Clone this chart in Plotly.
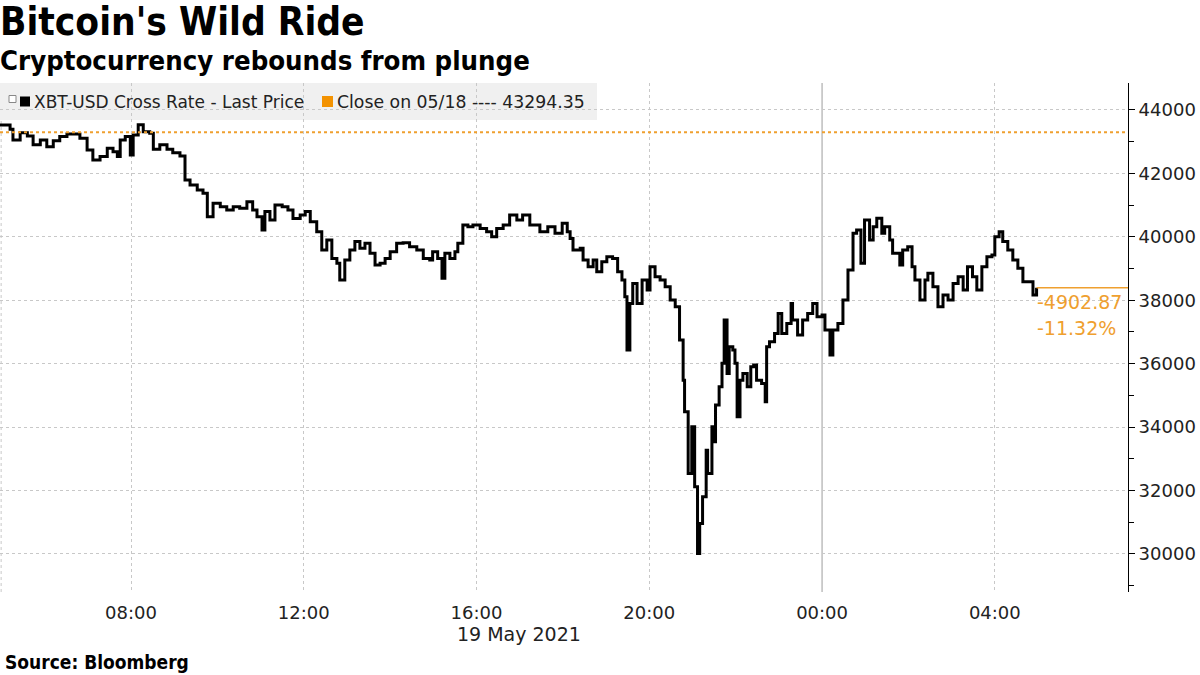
import pandas as pd
import plotly.graph_objects as go

# ---- data ----
start_time = "2021-05-19 04:58"
minutes = [0, 14, 18, 28, 38, 46, 56, 65, 74, 83, 93, 101, 111, 121, 129, 139, 149, 157, 163, 167,
           174, 181, 185, 192, 199, 208, 213, 222, 232, 240, 250, 257, 264, 274, 282, 288, 296, 306,
           315, 324, 333, 343, 351,
           357, 364, 368, 375, 382, 392, 400, 407, 417, 424, 431, 440, 447, 454, 461, 468, 472, 479,
           486, 493, 500, 507, 514, 521, 528, 535, 542, 551, 560, 569, 579, 588, 597, 601, 608, 614,
           618, 625, 632, 636, 643, 650, 657, 667, 676, 683, 690,
           699, 708, 718, 726, 736, 750, 761, 771, 781, 788, 792, 796, 806, 810, 817, 824, 829, 836,
           843, 851, 858, 864, 868, 871, 875, 879, 885, 892, 899, 903, 910, 917, 924, 931, 938, 944,
           949, 951, 956, 961, 965, 969,
           972, 976, 981, 983, 989, 990, 994, 999, 1003, 1006, 1010, 1013, 1018, 1021, 1024, 1028,
           1032, 1038, 1043, 1047, 1051, 1058, 1063, 1065, 1069, 1076, 1081, 1086, 1093, 1099, 1101,
           1108, 1115, 1122, 1129, 1135, 1142, 1146, 1153, 1157, 1164,
           1171, 1178, 1185, 1190, 1196, 1201, 1208, 1213, 1218, 1225, 1229, 1236, 1240, 1247, 1250,
           1254, 1261, 1267, 1271, 1278, 1285, 1289, 1296, 1303, 1310, 1317, 1324, 1331, 1338, 1344,
           1351, 1357, 1364, 1371, 1378, 1382, 1388, 1393, 1400, 1407, 1414, 1421, 1428, 1435, 1440]
price = [43527, 43390, 43050, 43285, 43180, 42900, 43050, 42840, 43030, 43160, 43240, 43240, 43105,
         42740, 42420, 42530, 42790, 42685, 42530, 43050, 43160, 42580, 43210, 43530, 43315, 43265,
         42760, 42900, 42760, 42650, 42550, 41790, 41630, 41475, 41370, 40635, 41055, 40950, 40845,
         40950, 40900, 41105, 40845,
         40635, 40215, 40795, 40530, 41005, 40950, 40845, 40580, 40690, 40795, 40475, 40160, 39585,
         39900, 39320, 39165, 38635, 39270, 39585, 39850, 39640, 39795, 39480, 39110, 39165, 39320,
         39530, 39795, 39815, 39690, 39585, 39320, 39270, 39530, 39320, 38690, 39480, 39320, 39530,
         39795, 40370, 40320, 40370, 40265, 40160, 40005, 40265,
         40370, 40690, 40530, 40690, 40370, 40160, 40320, 40110, 40425, 40160, 39950, 39585, 39640,
         39270, 39055, 39270, 38900, 39215, 39375, 39320, 38900, 38635, 38110, 36430, 37900, 38530,
         37900, 38635, 38320, 39055, 38740, 38635, 38425, 38005, 37795, 36745, 35480, 34480, 32535,
         34010, 32120, 30015,
         30960, 31800, 33270, 32540, 34010, 33540, 34700, 35270, 36010, 37375, 35690, 36530, 36430,
         36010, 34325, 35480, 35690, 35270, 35900, 35955, 35480, 35375, 34800, 36530, 36690, 36955,
         37585, 36955, 37270, 37900, 37375, 36900, 37375, 37585, 37900, 37480, 37535, 37060, 36270,
         37060, 37270,
         38005, 38950, 40110, 40215, 39165, 40530, 39900, 40320, 40585, 40110, 40320, 39900, 39480,
         39480, 39110, 39585, 39690, 39055, 38635, 38005, 38635, 38850, 38425, 37795, 38165, 38005,
         38530, 38740, 38320, 39055, 38740, 38320, 39055, 39375, 39425, 40005, 40160, 39850, 39585,
         39270, 39005, 38585, 38585, 38165, 38391.48]
prev_close = 43294.35
x_range = ["2021-05-19 04:58", "2021-05-20 07:05"]
y_range = [28800, 44850]
x_ticks = ["2021-05-19 08:00", "2021-05-19 12:00", "2021-05-19 16:00", "2021-05-19 20:00",
           "2021-05-20 00:00", "2021-05-20 04:00"]
x_tick_labels = ["08:00", "12:00", "16:00", "20:00", "00:00", "04:00"]
y_ticks = [30000, 32000, 34000, 36000, 38000, 40000, 42000, 44000]
day_break = "2021-05-20 00:00"

times = pd.Timestamp(start_time) + pd.to_timedelta(minutes, unit="min")
last_price = price[-1]
change = last_price - prev_close
pct = change / prev_close * 100

ORANGE = "#EFA02F"
ORANGE_SQ = "#F39200"
GRID = "#C8C8C8"
FONT_T = "DejaVu Sans Condensed, DejaVu Sans, sans-serif"
FONT = "DejaVu Sans, sans-serif"

fig = go.Figure()
fig.add_trace(go.Scatter(x=times, y=price, mode="lines", line=dict(color="black", width=3, shape="hv"),
                         showlegend=False, hoverinfo="skip"))

# previous close dotted line
fig.add_shape(type="line", xref="paper", x0=0, x1=1, yref="y", y0=prev_close, y1=prev_close,
              line=dict(color=ORANGE, width=2, dash="dot"), layer="above")
# last value line
fig.add_shape(type="line", xref="x", x0=times[-1], x1=x_range[1], yref="y", y0=last_price, y1=last_price,
              line=dict(color=ORANGE, width=1.5), layer="above")
# day break
fig.add_shape(type="line", xref="x", x0=day_break, x1=day_break, yref="paper", y0=0, y1=1,
              line=dict(color="#B4B4B4", width=1.3), layer="below")
# left dashed border
fig.add_shape(type="line", xref="paper", x0=0.001, x1=0.001, yref="paper", y0=0, y1=1,
              line=dict(color=GRID, width=1, dash="3px,3px"), layer="below")

# legend box
W = 1128.0
H = 509.0
fig.add_shape(type="rect", xref="paper", yref="paper", x0=0, x1=597 / W, y0=1 - 37 / H, y1=1,
              fillcolor="#F0F0F0", line=dict(width=0), layer="below")
legend_y = 1 - 18.5 / H
fig.add_shape(type="rect", xref="paper", yref="paper", x0=20 / W, x1=30 / W,
              y0=legend_y - 5 / H, y1=legend_y + 5 / H, fillcolor="black", line=dict(width=0))
fig.add_shape(type="rect", xref="paper", yref="paper", x0=9 / W, x1=16 / W,
              y0=legend_y - 1 / H, y1=legend_y + 6 / H, fillcolor="white",
              line=dict(color="#888888", width=1))
fig.add_shape(type="rect", xref="paper", yref="paper", x0=322 / W, x1=333 / W,
              y0=legend_y - 5.5 / H, y1=legend_y + 5.5 / H, fillcolor=ORANGE_SQ, line=dict(width=0))
fig.add_annotation(xref="paper", yref="paper", x=32 / W, y=legend_y, xanchor="left", yanchor="middle",
                   text="XBT-USD Cross Rate - Last Price", showarrow=False,
                   font=dict(family=FONT, size=17, color="#222222"))
fig.add_annotation(xref="paper", yref="paper", x=335 / W, y=legend_y, xanchor="left", yanchor="middle",
                   text=f"Close on 05/18 ---- {prev_close:.2f}", showarrow=False,
                   font=dict(family=FONT, size=17.3, color="#222222"))

# change annotations
fig.add_annotation(xref="x", yref="y", x=times[-1], y=last_price, xanchor="left", yanchor="top",
                   yshift=-1, xshift=-2, text=f"{change:.2f}", showarrow=False,
                   font=dict(family=FONT, size=19, color=ORANGE))
fig.add_annotation(xref="x", yref="y", x=times[-1], y=last_price, xanchor="left", yanchor="top",
                   yshift=-27, xshift=-2, text=f"{pct:.2f}%", showarrow=False,
                   font=dict(family=FONT, size=19, color=ORANGE))

# titles
fig.add_annotation(xref="paper", yref="paper", x=-2 / W, y=(592 - 22) / H, xanchor="left", yanchor="middle",
                   text="<b>Bitcoin's Wild Ride</b>", showarrow=False,
                   font=dict(family=FONT_T, size=38.5, color="black"))
fig.add_annotation(xref="paper", yref="paper", x=-2 / W, y=(592 - 60) / H, xanchor="left", yanchor="middle",
                   text="<b>Cryptocurrency rebounds from plunge</b>", showarrow=False,
                   font=dict(family=FONT_T, size=27.3, color="black"))
fig.add_annotation(xref="paper", yref="paper", x=3 / W, y=(592 - 662) / H, xanchor="left", yanchor="middle",
                   text="<b>Source: Bloomberg</b>", showarrow=False,
                   font=dict(family=FONT_T, size=19, color="black"))
fig.add_annotation(xref="paper", yref="paper", x=519 / W, y=(592 - 634) / H, xanchor="center", yanchor="middle",
                   text="19 May 2021", showarrow=False,
                   font=dict(family=FONT, size=19, color="#222222"))

fig.update_xaxes(range=x_range, tickvals=x_ticks, ticktext=x_tick_labels, showgrid=True,
                 gridcolor=GRID, griddash="3px,3px", gridwidth=1, zeroline=False, showline=False,
                 ticks="", tickfont=dict(family=FONT, size=18, color="#222222"), ticklabelstandoff=8)
fig.update_yaxes(range=y_range, side="right", tickvals=y_ticks, showgrid=True, gridcolor=GRID,
                 griddash="3px,3px", gridwidth=1, zeroline=False, showline=True, linecolor="black",
                 linewidth=1, ticks="outside", ticklen=6, tickcolor="black", tickformat="d",
                 tickfont=dict(family=FONT, size=18, color="#222222"),
                 minor=dict(dtick=1000, tick0=0, ticks="outside", ticklen=5, tickcolor="black", showgrid=False))

fig.update_layout(width=1200, height=675, margin=dict(l=0, r=72, t=83, b=83),
                  paper_bgcolor="white", plot_bgcolor="white", showlegend=False)

fig.write_html("out.html", config={"displayModeBar": False},
               post_script="document.body.style.margin='0px';")
